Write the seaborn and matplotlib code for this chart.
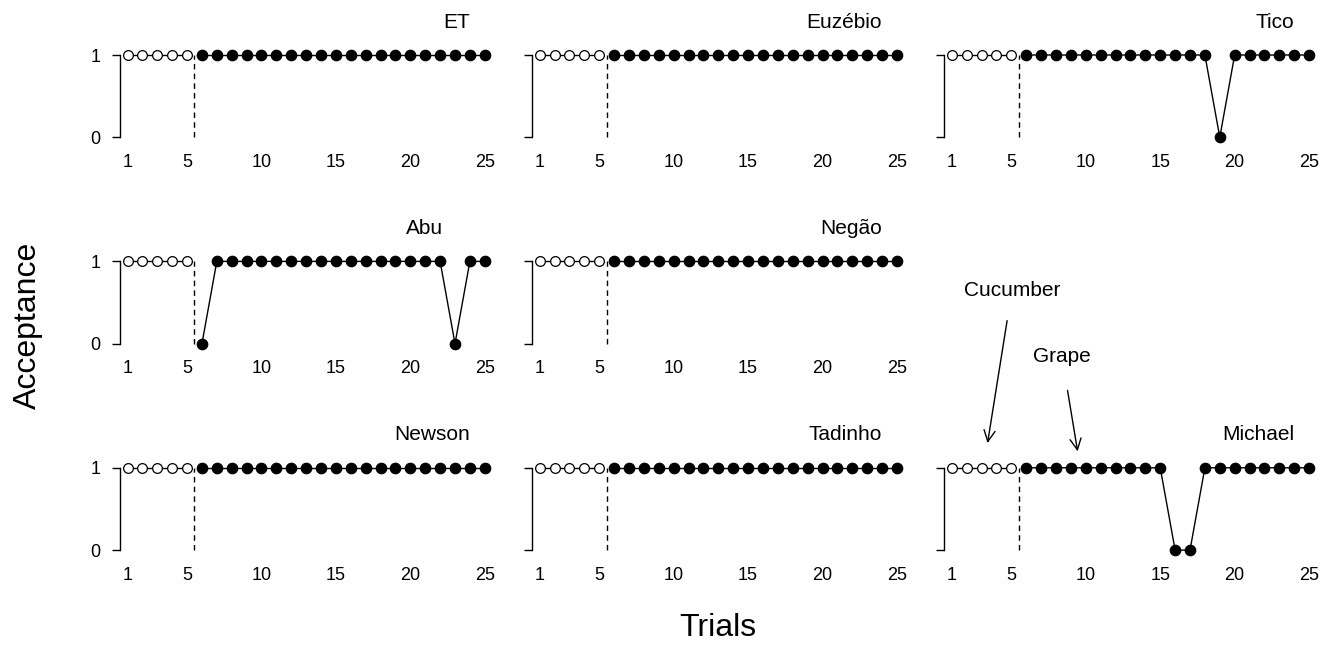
import pandas as pd
import matplotlib.pyplot as plt
import seaborn as sns

sns.set_theme(style="white")
plt.rcParams['font.family'] = ['Liberation Sans', 'DejaVu Sans']
plt.rcParams['text.color'] = 'black'

# panels in reading order (None = empty slot)
monkeys = ['ET', 'Euzébio', 'Tico', 'Abu', 'Negão', None, 'Newson', 'Tadinho', 'Michael']

trials = list(range(1, 26))
baseline_end = 5  # trials 1-5 are the baseline (open circles)

acc_et =      [1] * 25
acc_euzebio = [1] * 25
acc_tico =    [1] * 18 + [0] + [1] * 6
acc_abu =     [1] * 5 + [0] + [1] * 16 + [0] + [1] * 2
acc_negao =   [1] * 25
acc_newson =  [1] * 25
acc_tadinho = [1] * 25
acc_michael = [1] * 15 + [0, 0] + [1] * 8

acceptance = {
    'ET': acc_et, 'Euzébio': acc_euzebio, 'Tico': acc_tico, 'Abu': acc_abu,
    'Negão': acc_negao, 'Newson': acc_newson, 'Tadinho': acc_tadinho,
    'Michael': acc_michael,
}

# where the name sits (trial of right edge)
title_x = {'Abu': 22.2}

rows = []
for name, vals in acceptance.items():
    for t, v in zip(trials, vals):
        rows.append({'monkey': name, 'trial': t, 'acceptance': v,
                     'phase': 'baseline' if t <= baseline_end else 'test'})
df = pd.DataFrame(rows)

fig, axes = plt.subplots(3, 3, figsize=(13.37, 6.47), dpi=100)
plt.subplots_adjust(left=0.0898, right=0.9847, top=0.9277, bottom=0.1371,
                    wspace=0.1075, hspace=1.09)

for i, (ax, name) in enumerate(zip(axes.flat, monkeys)):
    if name is None:
        ax.axis('off')
        continue
    sub = df[df['monkey'] == name]
    base = sub[sub['phase'] == 'baseline']
    test = sub[sub['phase'] == 'test']
    sns.lineplot(data=base, x='trial', y='acceptance', ax=ax, color='black',
                 lw=1.0, marker='o', markersize=7, markerfacecolor='white',
                 markeredgecolor='black', markeredgewidth=0.9, errorbar=None,
                 clip_on=False)
    sns.lineplot(data=test, x='trial', y='acceptance', ax=ax, color='black',
                 lw=1.0, marker='o', markersize=7.5, markerfacecolor='black',
                 markeredgecolor='black', markeredgewidth=0.9, errorbar=None,
                 clip_on=False)
    ax.vlines(baseline_end + 0.5, 0, 1, colors='black', linestyles=(0, (4, 3)), lw=1.0)

    ax.set_xlim(0.5, 25.5)
    ax.set_ylim(-0.1, 1.1)
    ax.set_xticks([1, 5, 10, 15, 20, 25])
    ax.set_yticks([0, 1])
    ax.set_xlabel('')
    ax.set_ylabel('')
    for s in ['top', 'right', 'bottom']:
        ax.spines[s].set_visible(False)
    ax.spines['left'].set_bounds(0, 1)
    ax.spines['left'].set_color('black')
    ax.spines['left'].set_linewidth(1.0)
    ax.tick_params(axis='x', length=0, labelsize=13, pad=6, colors='black')
    ax.tick_params(axis='y', left=True, length=6, width=1.0, labelsize=13,
                   pad=8, colors='black')
    if i % 3 != 0:
        ax.set_yticklabels([])
    ax.text(title_x.get(name, 24.0), 1.4, name, ha='right', va='center',
            fontsize=15, color='black')

# stimulus arrows in the Michael panel
ax_m = axes[2, 2]
ax_m.annotate('Cucumber', xy=(3.4, 1.3), xycoords='data',
              xytext=(1012, 647 - 290), textcoords='figure pixels',
              ha='center', va='center', fontsize=15, color='black',
              annotation_clip=False,
              arrowprops=dict(arrowstyle='->', color='black', lw=1.0,
                              shrinkA=13, shrinkB=0, mutation_scale=20))
ax_m.annotate('Grape', xy=(9.45, 1.2), xycoords='data',
              xytext=(1062, 647 - 357), textcoords='figure pixels',
              ha='center', va='center', fontsize=15, color='black',
              annotation_clip=False,
              arrowprops=dict(arrowstyle='->', color='black', lw=1.0,
                              shrinkA=15, shrinkB=0, mutation_scale=20))

fig.text(718 / 1337, 1 - 628 / 647, 'Trials', ha='center', va='center',
         fontsize=23, color='black')
fig.text(28 / 1337, 1 - 325 / 647, 'Acceptance', ha='center', va='center',
         rotation=90, fontsize=23, color='black')

plt.savefig('out.png', dpi=100)
plt.close()
